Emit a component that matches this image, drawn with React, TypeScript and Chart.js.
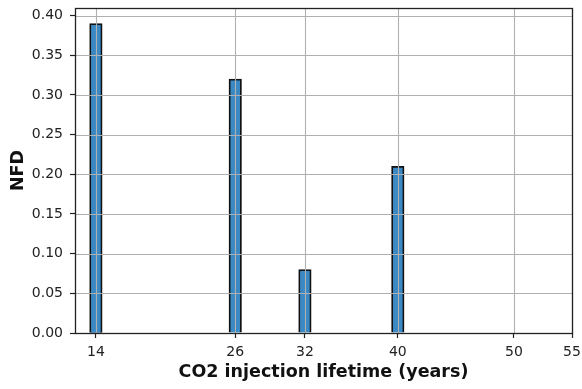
import { useEffect, useRef } from 'react';
import { Chart, registerables } from 'chart.js';
Chart.register(...registerables);

const years = [14, 26, 32, 40];
const nfd = [0.39, 0.32, 0.08, 0.21];
const xTickValues = [14, 26, 32, 40, 50, 55];
const yTickValues = [0, 0.05, 0.1, 0.15, 0.2, 0.25, 0.3, 0.35, 0.4];
const xTitle = 'CO2 injection lifetime (years)';
const yTitle = 'NFD';

const FONT = "'DejaVu Sans', sans-serif";

const gridOnTop = {
  id: 'gridOnTop',
  afterDatasetsDraw(chart: any) {
    const { ctx, chartArea: a, scales } = chart;
    ctx.save();
    ctx.strokeStyle = '#b0b0b0';
    ctx.lineWidth = 1.1;
    for (const t of scales.x.ticks) {
      const px = Math.round(scales.x.getPixelForValue(t.value)) + 0.5;
      ctx.beginPath();
      ctx.moveTo(px, a.top);
      ctx.lineTo(px, a.bottom);
      ctx.stroke();
    }
    for (const t of scales.y.ticks) {
      const py = Math.round(scales.y.getPixelForValue(t.value)) + 0.5;
      ctx.beginPath();
      ctx.moveTo(a.left, py);
      ctx.lineTo(a.right, py);
      ctx.stroke();
    }
    ctx.strokeStyle = '#222';
    ctx.lineWidth = 1.3;
    ctx.strokeRect(Math.round(a.left) + 0.5, Math.round(a.top) + 0.5, Math.round(a.width), Math.round(a.height));
    ctx.restore();
  },
};

export default function App() {
  const ref = useRef<HTMLCanvasElement>(null);
  useEffect(() => {
    document.body.style.margin = '0';
    const chart = new Chart(ref.current!, {
      type: 'bar',
      data: {
        datasets: [
          {
            data: years.map((x, i) => ({ x, y: nfd[i] })),
            backgroundColor: '#3a89c5',
            borderColor: '#111',
            borderWidth: 1.8,
            barThickness: 12.5,
          },
        ],
      },
      options: {
        animation: false,
        responsive: false,
        maintainAspectRatio: false,
        layout: { padding: { top: 8, right: 10, left: 0, bottom: 0 } },
        plugins: { legend: { display: false }, tooltip: { enabled: false } },
        scales: {
          x: {
            type: 'linear',
            min: 12.2,
            max: 55,
            offset: false,
            afterBuildTicks: (s: any) => {
              s.ticks = xTickValues.map((v) => ({ value: v }));
            },
            afterFit: (s: any) => {
              s.height = 56;
              s.paddingLeft = 0;
              s.paddingRight = 0;
            },
            ticks: { color: '#222', font: { family: FONT, size: 14 }, padding: 6, maxRotation: 0, autoSkip: false },
            grid: { offset: false, drawOnChartArea: false, drawTicks: true, tickLength: 5, tickColor: '#222', tickWidth: 1.2 },
            border: { display: false },
            title: { display: true, text: xTitle, color: '#111', font: { family: FONT, size: 17.5, weight: 'bold' }, padding: { top: 0, bottom: 6.5 } },
          },
          y: {
            type: 'linear',
            min: 0,
            max: 0.4095,
            afterBuildTicks: (s: any) => {
              s.ticks = yTickValues.map((v) => ({ value: v }));
            },
            afterFit: (s: any) => {
              s.width = 75;
              s.paddingTop = 0;
              s.paddingBottom = 0;
            },
            ticks: { color: '#222', font: { family: FONT, size: 14 }, padding: 7, callback: (v: any) => Number(v).toFixed(2) },
            grid: { drawOnChartArea: false, drawTicks: true, tickLength: 5, tickColor: '#222', tickWidth: 1.2 },
            border: { display: false },
            title: { display: true, text: yTitle, color: '#111', font: { family: FONT, size: 17.5, weight: 'bold' }, padding: { top: 7.5, bottom: 0 } },
          },
        },
      },
      plugins: [gridOnTop],
    });
    return () => chart.destroy();
  }, []);
  return (
    <div style={{ width: 582, height: 389 }}>
      <canvas ref={ref} width={582} height={389} style={{ width: 582, height: 389, display: 'block' }} />
    </div>
  );
}
